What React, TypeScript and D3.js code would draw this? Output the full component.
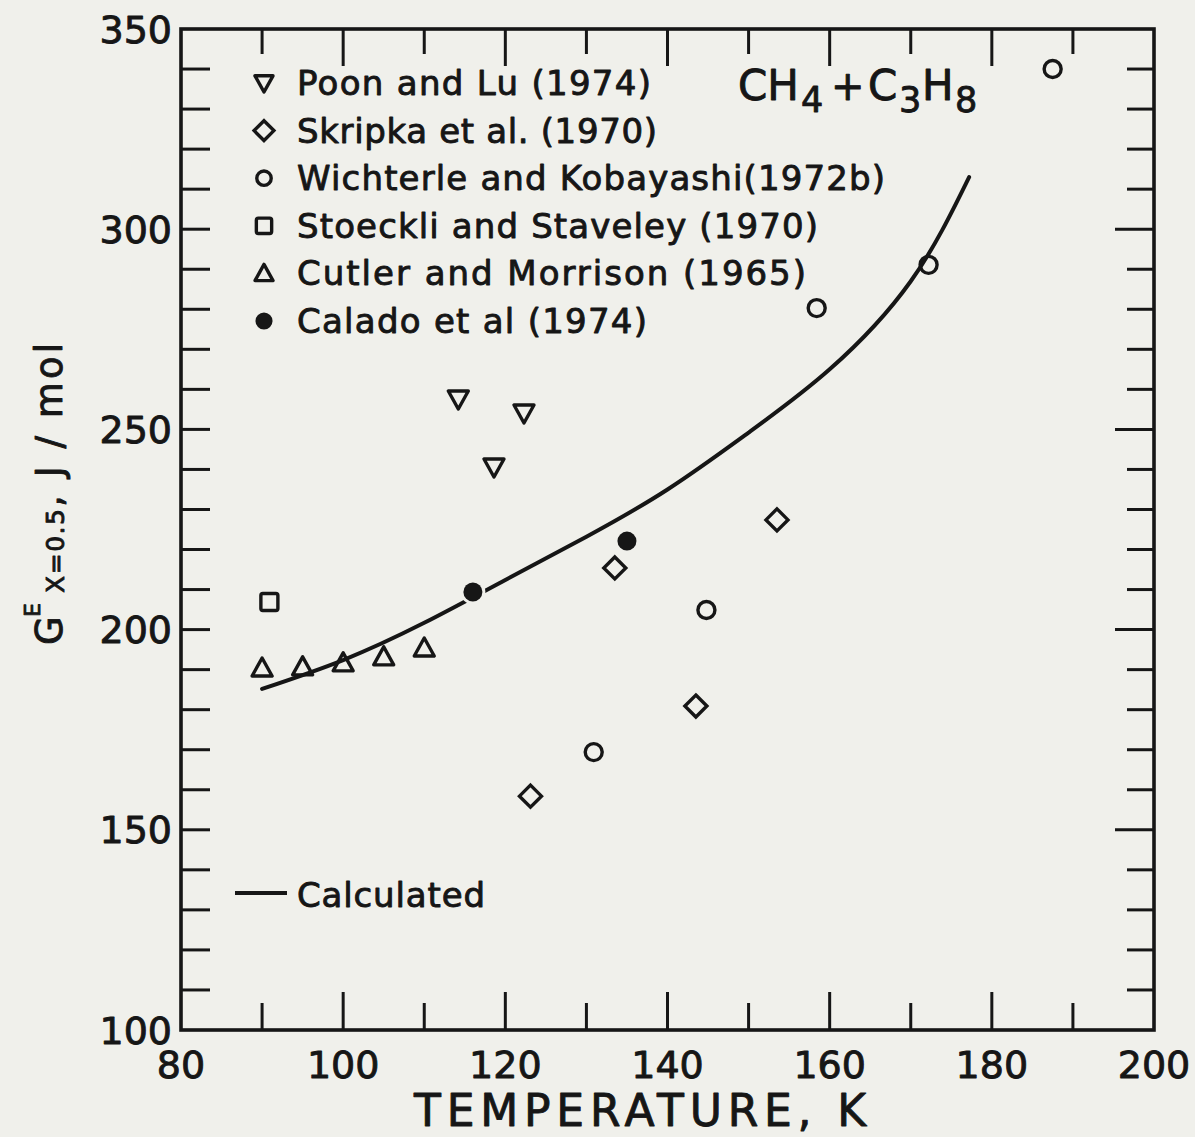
import React from "react";
import * as d3 from "d3";

// Excess Gibbs energy of CH4 + C3H8 at x = 0.5 vs temperature
const poonLu: [number, number][] = [[114.2, 257.6], [118.6, 240.6], [122.3, 254.1]];
const skripka: [number, number][] = [[123.1, 158.4], [133.5, 215.4], [143.5, 180.9], [153.5, 227.4]];
const wichterle: [number, number][] = [[130.9, 169.4], [144.8, 204.9], [158.4, 280.3], [172.2, 291.1], [187.5, 340.0]];
const stoeckli: [number, number][] = [[90.9, 206.9]];
const cutler: [number, number][] = [[90, 190.4], [95, 190.7], [100, 191.7], [105, 193.2], [110, 195.4]];
const calado: [number, number][] = [[116, 209.4], [135, 222.1]];
const calculated: [number, number][] = [
  [90, 185.2], [100, 192.4], [110, 201.7], [120, 212.4], [130, 223.2], [140, 235.0],
  [150, 249.2], [160, 265.0], [170, 287.0], [177.2, 313.0],
];

const xTickLabels = [80, 100, 120, 140, 160, 180, 200];
const yTickLabels = [100, 150, 200, 250, 300, 350];

const legendItems = [
  { key: "poon", label: "Poon and Lu (1974)", len: 354 },
  { key: "skripka", label: "Skripka et al. (1970)", len: 360 },
  { key: "wichterle", label: "Wichterle and Kobayashi(1972b)", len: 588 },
  { key: "stoeckli", label: "Stoeckli and Staveley (1970)", len: 521 },
  { key: "cutler", label: "Cutler and Morrison (1965)", len: 509 },
  { key: "calado", label: "Calado et al (1974)", len: 350 },
];

const W = 1195;
const H = 1137;
const BG = "#f0f0eb";
const INK = "#161616";
const FONT = "'DejaVu Sans', sans-serif";
// lettering strokes are heavier than the regular face
const heavy = { stroke: INK, strokeWidth: 0.9, strokeLinejoin: "round" as const };

const left = 181, right = 1154, top = 29, bottom = 1030;
const x = d3.scaleLinear().domain([80, 200]).range([left, right]);
const y = d3.scaleLinear().domain([100, 350]).range([bottom, top]);

function Marker({ kind, cx, cy, s = 1 }: { kind: string; cx: number; cy: number; s?: number }) {
  const sw = 3.4;
  if (kind === "poon") {
    return <path d={`M${cx - 10 * s},${cy - 8 * s}L${cx + 10 * s},${cy - 8 * s}L${cx},${cy + 10 * s}Z`} fill="none" stroke={INK} strokeWidth={sw} strokeLinejoin="round" />;
  }
  if (kind === "cutler") {
    return <path d={`M${cx},${cy - 10 * s}L${cx + 10 * s},${cy + 8 * s}L${cx - 10 * s},${cy + 8 * s}Z`} fill="none" stroke={INK} strokeWidth={sw} strokeLinejoin="round" />;
  }
  if (kind === "skripka") {
    const r = 11 * s;
    return <path d={`M${cx},${cy - r}L${cx + r},${cy}L${cx},${cy + r}L${cx - r},${cy}Z`} fill="none" stroke={INK} strokeWidth={sw} strokeLinejoin="miter" />;
  }
  if (kind === "wichterle") {
    return <circle cx={cx} cy={cy} r={8.5 * s} fill="none" stroke={INK} strokeWidth={sw} />;
  }
  if (kind === "stoeckli") {
    const h = 8.5 * s;
    return <rect x={cx - h} y={cy - h} width={2 * h} height={2 * h} rx={2} fill="none" stroke={INK} strokeWidth={sw} />;
  }
  // calado: filled circle with a background halo that breaks the curve
  return <circle cx={cx} cy={cy} r={9.5 * s} fill={INK} stroke={s === 1 ? BG : "none"} strokeWidth={6} paintOrder="stroke" />;
}

export default function App() {
  const line = d3
    .line<[number, number]>()
    .x((d) => x(d[0]))
    .y((d) => y(d[1]))
    .curve(d3.curveNatural);

  const xMinor = d3.range(80, 201, 10);
  const yMinor = d3.range(100, 351, 10);

  const series: { kind: string; data: [number, number][] }[] = [
    { kind: "cutler", data: cutler },
    { kind: "stoeckli", data: stoeckli },
    { kind: "poon", data: poonLu },
    { kind: "skripka", data: skripka },
    { kind: "wichterle", data: wichterle },
  ];

  const legendY0 = 95;
  const legendStep = 47.6;

  return (
    <svg width={W} height={H} style={{ position: "absolute", left: 0, top: 0, background: BG }} fontFamily={FONT}>
      <rect x={0} y={0} width={W} height={H} fill={BG} />

      {/* ticks */}
      <g stroke={INK} strokeWidth={3}>
        {xMinor.map((v) => {
          const major = v % 20 === 0;
          if (v === 80 || v === 200) return null;
          const lb = major ? 38 : 27;
          const lt = major ? 37 : 25;
          return (
            <g key={`xt${v}`}>
              <line x1={x(v)} x2={x(v)} y1={bottom} y2={bottom - lb} />
              <line x1={x(v)} x2={x(v)} y1={top} y2={top + lt} />
            </g>
          );
        })}
        {yMinor.map((v) => {
          if (v === 100 || v === 350) return null;
          const major = v % 50 === 0;
          return (
            <g key={`yt${v}`}>
              <line x1={left} x2={left + 29} y1={y(v)} y2={y(v)} />
              <line x1={right} x2={right - (major ? 39 : 27)} y1={y(v)} y2={y(v)} />
            </g>
          );
        })}
      </g>

      {/* frame */}
      <rect x={left} y={top} width={right - left} height={bottom - top} fill="none" stroke={INK} strokeWidth={3.6} />

      {/* tick labels */}
      <g fill={INK} fontSize={38} {...heavy}>
        {yTickLabels.map((v) => (
          <text key={`yl${v}`} x={172} y={y(v)} dy="0.36em" textAnchor="end">{v}</text>
        ))}
        {xTickLabels.map((v) => (
          <text key={`xl${v}`} x={x(v)} y={1078} textAnchor="middle">{v}</text>
        ))}
      </g>

      {/* axis titles */}
      <text x={640} y={1126} textAnchor="middle" fontSize={44} fill={INK} textLength={452} lengthAdjust="spacing" {...heavy}>TEMPERATURE, K</text>
      <g transform="translate(62,645) rotate(-90)" fill={INK} {...heavy}>
        <text x={0} y={0} fontSize={37}>G</text>
        <text x={28} y={-22} fontSize={22}>E</text>
        <text x={52} y={2} fontSize={25} textLength={84} lengthAdjust="spacing">X=0.5</text>
        <text x={138} y={0} fontSize={37} textLength={164} lengthAdjust="spacing">, J / mol</text>
      </g>

      {/* calculated curve */}
      <path d={line(calculated) ?? ""} fill="none" stroke={INK} strokeWidth={4} strokeLinecap="round" />

      {/* data points */}
      {series.map((s) =>
        s.data.map((d, i) => <Marker key={`${s.kind}${i}`} kind={s.kind} cx={x(d[0])} cy={y(d[1])} />)
      )}
      {calado.map((d, i) => <Marker key={`calado${i}`} kind="calado" cx={x(d[0])} cy={y(d[1])} />)}

      {/* legend */}
      <g fill={INK} fontSize={34}>
        {legendItems.map((it, i) => {
          const by = legendY0 + i * legendStep;
          return (
            <g key={it.key}>
              <Marker kind={it.key} cx={264} cy={by - 12} s={it.key === "wichterle" ? 0.85 : 0.9} />
              <text x={297} y={by} textLength={it.len} lengthAdjust="spacing" {...heavy}>{it.label}</text>
            </g>
          );
        })}
        <line x1={235} x2={287} y1={893} y2={893} stroke={INK} strokeWidth={4} />
        <text x={297} y={907} textLength={188} lengthAdjust="spacing" {...heavy}>Calculated</text>
      </g>

      {/* system label */}
      <text y={100} fill={INK} fontSize={42} {...heavy}>
        <tspan x={738}>CH</tspan>
        <tspan x={801} dy={12} fontSize={35}>4</tspan>
        <tspan x={831} dy={-12} fontSize={40}>+</tspan>
        <tspan x={868}>C</tspan>
        <tspan x={899} dy={12} fontSize={35}>3</tspan>
        <tspan x={922} dy={-12}>H</tspan>
        <tspan x={955} dy={12} fontSize={35}>8</tspan>
      </text>
    </svg>
  );
}
